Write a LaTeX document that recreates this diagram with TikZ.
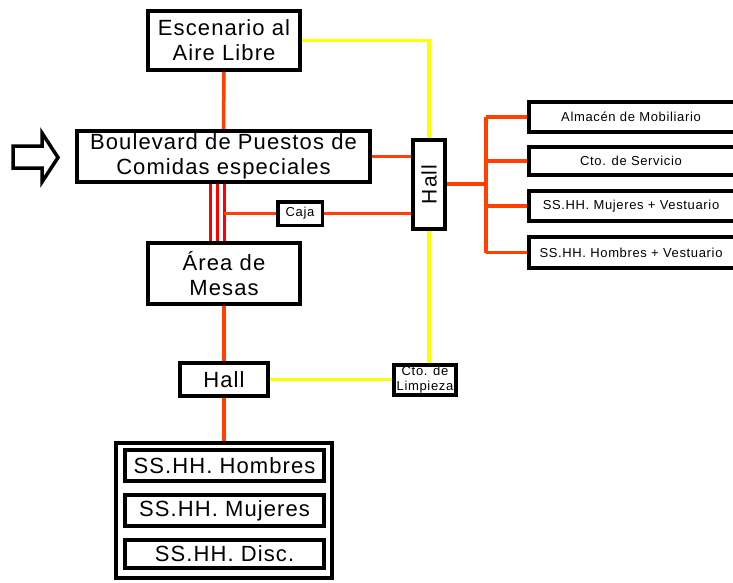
\documentclass[tikz,border=0pt]{standalone}
\usepackage{fontspec}
\setmainfont{Liberation Sans}[LetterSpace=5]
\begin{document}
\begin{tikzpicture}[x=1pt,y=-1pt,
  box/.style={draw=black,line width=4pt,fill=white,inner sep=0pt,align=center,font=\fontsize{22}{25}\selectfont},
  sbox/.style={box,font=\fontsize{13}{15}\selectfont},
  rbox/.style={box,font=\fontsize{13}{15}\selectfont,minimum width=214pt},
  rtext/.style={font=\fontsize{13}{15}\selectfont,inner sep=0pt},
  org/.style={draw={rgb,255:red,255;green,64;blue,0},line width=3.5pt},
  redl/.style={draw={rgb,255:red,255;green,0;blue,0},line width=3pt},
  yel/.style={draw={rgb,255:red,255;green,255;blue,0},line width=3.5pt}]
\useasboundingbox (0,0) rectangle (733,583);
\clip (0,0) rectangle (733,583);
\fill[white] (0,0) rectangle (733,583);

% nodes
\node[box,minimum width=152pt,minimum height=59pt] (esc) at (224,40.5) {Escenario al\\Aire Libre};
\node[box,minimum width=293pt,minimum height=51pt] (boul) at (223.5,156.5) {Boulevard de Puestos de\\Comidas especiales};
\node[box,minimum width=32pt,minimum height=89pt] (hallv) at (429,184.5) {};
\node[rotate=90,font=\fontsize{21}{23}\selectfont,inner sep=0pt] (hallvt) at (hallv.center) {Hall};
\node[sbox,line width=3.5pt,minimum width=44.5pt,minimum height=23.5pt] (caja) at (300,213.5) {Caja};
\node[box,minimum width=152pt,minimum height=61pt] (area) at (224,273.5) {Área de\\Mesas};
\node[box,minimum width=88pt,minimum height=33pt] (hall2) at (224,379.5) {Hall};
\node[sbox,minimum width=62pt,minimum height=30pt] (limp) at (425,380) {Cto. de\\Limpieza};
\node[box,minimum width=216pt,minimum height=135pt] (outer) at (224,510.5) {};
\node[box,minimum width=199pt,minimum height=31pt] (hom) at (224.5,465.5) {SS.HH. Hombres};
\node[box,minimum width=199pt,minimum height=31pt] (muj) at (224.5,510.5) {SS.HH. Mujeres};
\node[box,minimum width=199pt,minimum height=28pt] (disc) at (224.5,554) {SS.HH. Disc.};

\node[rbox,minimum height=30pt] (alm) at (636,117) {};
\node[rtext] (almt) at (631,117) {Almacén de Mobiliario};
\node[rbox,minimum height=28pt] (serv) at (636,161) {};
\node[rtext] (servt) at (631,161) {Cto. de Servicio};
\node[rbox,minimum height=30pt] (rmuj) at (636,206) {};
\node[rtext] (rmujt) at (631,206) {SS.HH. Mujeres + Vestuario};
\node[rbox,minimum height=31pt] (rhom) at (636,252.5) {};
\node[rtext] (rhomt) at (631,252.5) {SS.HH. Hombres + Vestuario};

% entrance arrow
\draw[line width=3.5pt,line join=miter] (13,146) -- (42,146) -- (42,133) -- (58,157.5) -- (42,182) -- (42,168) -- (13,168) -- cycle;

% connectors
\draw[org] (esc.south) -- (boul.north);
\draw[yel] (esc.east) -| (hallv.north);
\draw[org] (boul.east) -- (boul.east -| hallv.west);
\foreach \d in {-14,-7,0}
  \draw[redl] ([xshift=\d pt]area.north) -- ([xshift=\d pt]area.north |- boul.south);
\draw[org] (area.north |- caja.west) -- (caja.west);
\draw[org] (caja.east) -- (caja.east -| hallv.west);
\coordinate (br) at (486,184);
\draw[org] (hallv.east |- br) -- (br);
\draw[org] (br |- alm.west) -- (br |- rhom.west);
\foreach \n in {alm,serv,rmuj,rhom}
  \draw[org] (br |- \n.west) -- (\n.west);
\draw[org] (area.south) -- (hall2.north);
\draw[org] (hall2.south) -- (outer.north);
\draw[yel] (hall2.east) -- (hall2.east -| limp.west);
\draw[yel] (hallv.south) -- (hallv.south |- limp.north);
\end{tikzpicture}
\end{document}
